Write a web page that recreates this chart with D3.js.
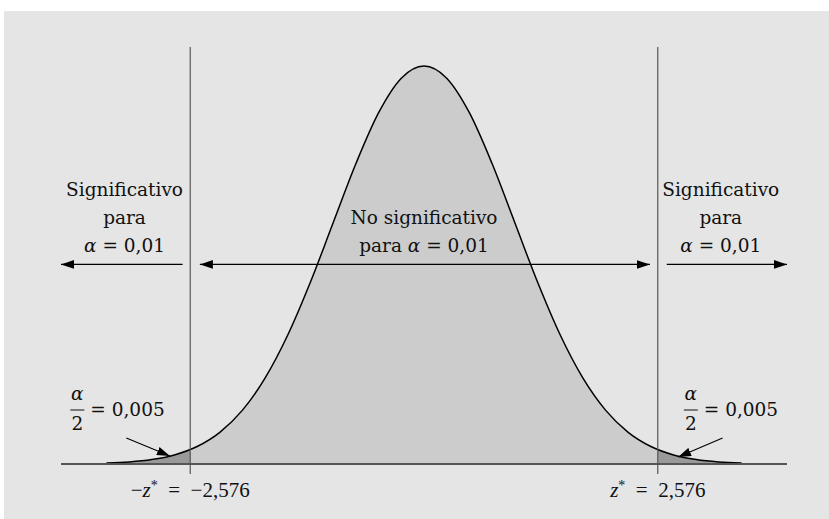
<!DOCTYPE html>
<html>
<head>
<meta charset="utf-8">
<title>Significativo para alfa = 0,01</title>
<script src="https://d3js.org/d3.v7.min.js"></script>
<style>
  body { margin: 0; background: #fff; }
  svg { display: block; }
  text { font-family: "DejaVu Serif", serif; fill: #111; }
</style>
</head>
<body>
<svg width="829" height="519"></svg>
<script>
// curva normal (z, densidad)
const zValues = [-3.5, -3.25, -3, -2.75, -2.5, -2.25, -2, -1.75, -1.5, -1.25, -1, -0.75, -0.5, -0.25, 0,
                 0.25, 0.5, 0.75, 1, 1.25, 1.5, 1.75, 2, 2.25, 2.5, 2.75, 3, 3.25, 3.5];
const density = [0.0009, 0.002, 0.0044, 0.0091, 0.0175, 0.0317, 0.054, 0.0863, 0.1295, 0.1826, 0.242, 0.3011, 0.3521, 0.3867, 0.3989,
                 0.3867, 0.3521, 0.3011, 0.242, 0.1826, 0.1295, 0.0863, 0.054, 0.0317, 0.0175, 0.0091, 0.0044, 0.002, 0.0009];
const zCritical = [-2.576, 2.576];
const critLabels = [
    [{ t: "−" }, { t: "z", i: true }, { t: "*", sup: true }, { t: "\u2002=\u2002−2,576" }],
    [{ t: "z", i: true }, { t: "*", sup: true }, { t: "\u2002=\u20022,576" }]
];
const sideLines = ["Significativo", "para"];
const midLines = ["No significativo", "para "];
const alphaText = " = 0,01";
const halfAlphaText = " = 0,005";

const svg = d3.select("svg");
const W = +svg.attr("width"), H = +svg.attr("height");

svg.append("rect").attr("x", 4).attr("y", 11).attr("width", W - 4).attr("height", H - 11)
    .attr("fill", "#e5e5e5");

const x = d3.scaleLinear().domain([-4, 4]).range([61, 787]);
const y = d3.scaleLinear().domain([0, 0.3989]).range([464, 66]);

const pts = zValues.map((z, i) => [z, density[i]]);

const area = d3.area().x(d => x(d[0])).y0(y(0)).y1(d => y(d[1])).curve(d3.curveMonotoneX);
const line = d3.line().x(d => x(d[0])).y(d => y(d[1])).curve(d3.curveMonotoneX);

// clip para las colas
const defs = svg.append("defs");
const clip = defs.append("clipPath").attr("id", "tails");
clip.append("rect").attr("x", 0).attr("y", 0).attr("width", x(zCritical[0])).attr("height", H);
clip.append("rect").attr("x", x(zCritical[1])).attr("y", 0).attr("width", W - x(zCritical[1])).attr("height", H);

defs.append("marker").attr("id", "head")
    .attr("viewBox", "0 0 12 8").attr("refX", 12).attr("refY", 4)
    .attr("markerUnits", "userSpaceOnUse").attr("markerWidth", 13).attr("markerHeight", 9)
    .attr("orient", "auto-start-reverse")
    .append("path").attr("d", "M0,0L12,4L0,8Z").attr("fill", "#000");

svg.append("path").datum(pts).attr("d", area).attr("fill", "#cccccc");
svg.append("path").datum(pts).attr("d", area).attr("fill", "#999999").attr("clip-path", "url(#tails)");
svg.append("path").datum(pts).attr("d", line).attr("fill", "none").attr("stroke", "#000").attr("stroke-width", 1.5);

// eje base
svg.append("line").attr("x1", x(-4)).attr("x2", x(4)).attr("y1", y(0)).attr("y2", y(0))
    .attr("stroke", "#555").attr("stroke-width", 2);

// líneas críticas
svg.selectAll(".crit").data(zCritical).join("line").attr("class", "crit")
    .attr("x1", d => x(d)).attr("x2", d => x(d))
    .attr("y1", y(0.418)).attr("y2", y(-0.01))
    .attr("stroke", "#555").attr("stroke-width", 1.2);

// flechas horizontales a la altura 0.2
const arrows = [[-2.66, -4.0], [-2.47, 2.49], [2.675, 4.0]];
svg.selectAll(".harrow").data(arrows).join("line").attr("class", "harrow")
    .attr("x1", d => x(d[0])).attr("x2", d => x(d[1]))
    .attr("y1", y(0.2)).attr("y2", y(0.2))
    .attr("stroke", "#000").attr("stroke-width", 1.3)
    .attr("marker-end", "url(#head)")
    .attr("marker-start", (d, i) => i === 1 ? "url(#head)" : null);

const fs = 18.5;
function alphaEq(sel, pre, rest) {
    if (pre) sel.append("tspan").text(pre);
    sel.append("tspan").attr("font-style", "italic").text("α");
    sel.append("tspan").text(rest);
}

// textos laterales
[-3.3, 3.27].forEach(zc => {
    sideLines.forEach((s, k) => {
        svg.append("text").attr("x", x(zc)).attr("y", 196 + k * 28)
            .attr("text-anchor", "middle").attr("font-size", fs).text(s);
    });
    const t = svg.append("text").attr("x", x(zc)).attr("y", 252)
        .attr("text-anchor", "middle").attr("font-size", fs);
    alphaEq(t, null, alphaText);
});

// texto central
svg.append("text").attr("x", x(0)).attr("y", 224).attr("text-anchor", "middle")
    .attr("font-size", fs).text(midLines[0]);
const tm = svg.append("text").attr("x", x(0)).attr("y", 252).attr("text-anchor", "middle").attr("font-size", fs);
alphaEq(tm, midLines[1], alphaText);

// alfa/2 en las colas
const fracPos = [-3.82, 2.94];
fracPos.forEach(zc => {
    const cx = x(zc);
    svg.append("text").attr("x", cx).attr("y", 400).attr("text-anchor", "middle")
        .attr("font-size", fs).attr("font-style", "italic").text("α");
    svg.append("line").attr("x1", cx - 7).attr("x2", cx + 7).attr("y1", 410).attr("y2", 410)
        .attr("stroke", "#111").attr("stroke-width", 1);
    svg.append("text").attr("x", cx).attr("y", 430).attr("text-anchor", "middle")
        .attr("font-size", fs).text("2");
    svg.append("text").attr("x", cx + 13).attr("y", 416).attr("font-size", fs).text(halfAlphaText);
});

// flechas que señalan las colas
const pointers = [[[-3.28, 0.026], [-2.80, 0.008]], [[3.29, 0.026], [2.80, 0.007]]];
svg.selectAll(".ptr").data(pointers).join("line").attr("class", "ptr")
    .attr("x1", d => x(d[0][0])).attr("y1", d => y(d[0][1]))
    .attr("x2", d => x(d[1][0])).attr("y2", d => y(d[1][1]))
    .attr("stroke", "#000").attr("stroke-width", 1.1)
    .attr("marker-end", "url(#head)");

// etiquetas críticas
zCritical.forEach((z, i) => {
    const t = svg.append("text").attr("x", x(z)).attr("y", 497).attr("text-anchor", "middle")
        .attr("font-size", 21).style("font-family", "'Liberation Serif', serif");
    critLabels[i].forEach(p => {
        const ts = t.append("tspan").text(p.t);
        if (p.i) ts.attr("font-style", "italic");
        if (p.sup) ts.attr("baseline-shift", "super").attr("font-size", 14);
    });
});
</script>
</body>
</html>
